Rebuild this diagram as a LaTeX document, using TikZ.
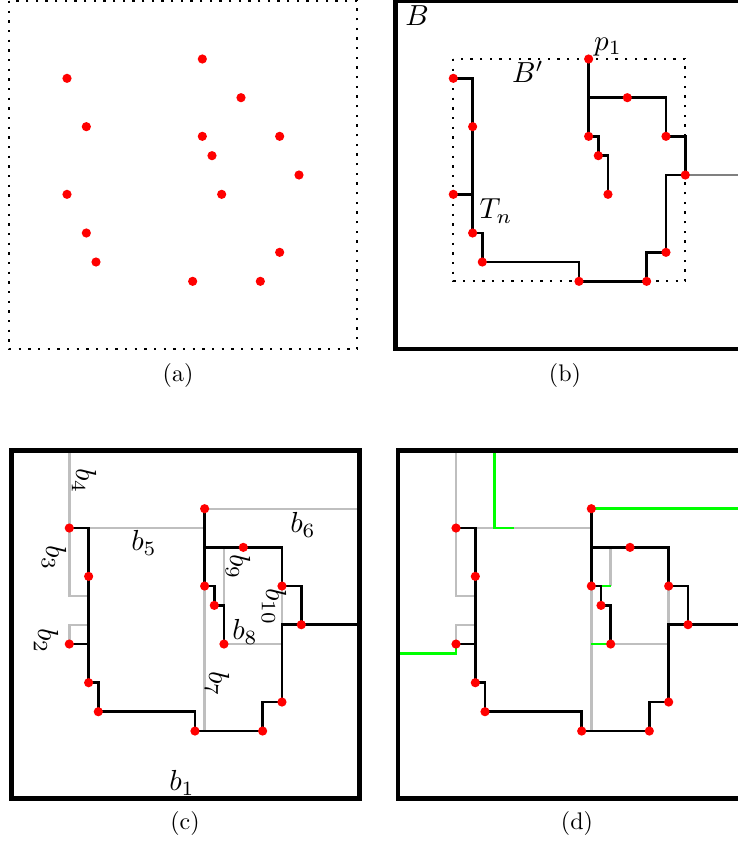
\documentclass[tikz,border=0pt]{standalone}
\definecolor{bgray}{gray}{0.75}
\definecolor{dgray}{gray}{0.5}
\definecolor{bgreen}{rgb}{0,1,0}

% the fifteen sample points of one panel, in grid units, plus the frame corners
\newcommand{\setpoints}[1]{%
  \foreach \n/\ix/\iy in {1/0/2,2/14/0,3/18/4,4/2/7,5/14/8,6/22/8,7/15/10,8/24/12,
                          9/0/14,10/16/14,11/2/18,12/3/21,13/22/20,14/13/23,15/20/23}
    {\coordinate (#1\n) at (\ix,\iy);}
  \coordinate (#1tl) at (-6,-6);
  \coordinate (#1br) at (30,30);}

% rectilinear tree T_n through the points
\newcommand{\drawtree}[1]{%
  \draw[treeline] (#11) -| (#111) -| (#112) -| (#114) -- (#115) |- (#113)
                  |- (#18) |- (#16) |- (#13) -| (#15);
  \draw[treeline] (#19) -- (#19 -| #14);
  \draw[treeline] (#12) -- (#15) -| (#17) -| (#110);}

\newcommand{\redpoints}[1]{%
  \foreach \k in {1,...,15}{\fill[red] (#1\k) circle[radius=2.3pt];}}

\begin{document}
\begin{tikzpicture}[x=0.5pt,y=-0.5pt,
  treeline/.style={draw=black, line width=1.45pt},
  bline/.style={draw=bgray, line width=1.2pt},
  gline/.style={draw=bgreen, line width=1.45pt},
  extline/.style={draw=dgray, line width=1.2pt},
  frame/.style={draw=black, line width=2.4pt},
  dotframe/.style={draw=black, line width=1.1pt, dash pattern=on 1.1pt off 3.7333pt},
  lbl/.style={font=\normalsize, scale=1.45, inner sep=0pt},
  caption/.style={font=\normalsize, scale=1.2, inner sep=0pt},
  grid units/.style={x=4.8333pt, y=-4.8333pt}]

\useasboundingbox (0,0) rectangle (738,841);
\clip (0,0) rectangle (738,841);

% (a) the point set
\begin{scope}[shift={(67,59)}, grid units]
  \setpoints{a}
  \draw[dotframe] (atl) rectangle (abr);
  \redpoints{a}
\end{scope}

% (b) the tree inside B' and B
\begin{scope}[shift={(453.3,59)}, grid units]
  \setpoints{b}
  \draw[frame] (btl) rectangle (bbr);
  \draw[dotframe] (b2 -| b1) rectangle (b14 -| b8);
  \draw[extline] (b8) -- (b8 -| bbr);
  \drawtree{b}
  \redpoints{b}
\end{scope}

% (c) the boundaries b_1 ... b_10
\begin{scope}[shift={(69.3,508.7)}, grid units]
  \setpoints{c}
  \draw[bline] (c1) -- (c1 |- ctl);
  \draw[bline] (c1) -- (0,9) -- (2,9);
  \draw[bline] (c9) -- (0,12) -- (2,12);
  \draw[bline] (c1 -| c4) -- (c1 -| c2);
  \draw[bline] (c2) -- (c2 -| cbr);
  \draw[bline] (c5) -- (c5 |- c14);
  \draw[bline] (c10) -- (c10 -| c6);
  \draw[bline] (c3 -| c10) -- (c7 -| c10);
  \draw[bline] (c6) -- (c6 |- c8);
  \draw[frame] (ctl) rectangle (cbr);
  \draw[treeline] (c8) -- (c8 -| cbr);
  \drawtree{c}
  \redpoints{c}
\end{scope}

% (d) the added green segments
\begin{scope}[shift={(456,508.7)}, grid units]
  \setpoints{d}
  \draw[bline] (d1) -- (d1 |- dtl);
  \draw[bline] (d1) -- (0,9) -- (2,9);
  \draw[bline] (d9) -- (0,12) -- (2,12);
  \draw[bline] (d1 -| d4) -- (d1 -| d2);
  \draw[bline] (d5) -- (d5 |- d14);
  \draw[bline] (d10) -- (d10 -| d6);
  \draw[bline] (d3 -| d10) -- (d5 -| d10);
  \draw[bline] (d6) -- (d6 |- d8);
  \draw[gline] (4,-6) -- (4,2) -- (6,2);
  \draw[gline] (d2) -- (d2 -| dbr);
  \draw[gline] (d7 |- d5) -- (d5 -| d10);
  \draw[gline] (d10 -| d5) -- (d10);
  \draw[gline] (-6,15) -- (0,15) -- (d9);
  \draw[frame] (dtl) rectangle (dbr);
  \draw[treeline] (d8) -- (d8 -| dbr);
  \drawtree{d}
  \redpoints{d}
\end{scope}

% labels
\node[lbl] (lB)  at (417,16)  {$B$};
\node[lbl] (lBp) at (528,72)  {$B'$};
\node[lbl] (lp1) at (608,47)  {$p_1$};
\node[lbl] (lTn) at (496,211) {$T_n$};

\node[lbl] (lb1)  at (182,783) {$b_1$};
\node[lbl, rotate=-90] (lb2)  at (46,641)  {$b_2$};
\node[lbl, rotate=-90] (lb3)  at (54,558)  {$b_3$};
\node[lbl, rotate=-90] (lb4)  at (84,481)  {$b_4$};
\node[lbl] (lb5)  at (144,543) {$b_5$};
\node[lbl] (lb6)  at (303,525) {$b_6$};
\node[lbl, rotate=-90] (lb7)  at (217,684) {$b_7$};
\node[lbl] (lb8)  at (245,632) {$b_8$};
\node[lbl, rotate=-90] (lb9)  at (238,567) {$b_9$};
\node[lbl, rotate=-90] (lb10) at (274,607) {$b_{10}$};

\node[caption] (ca) at (178,375) {(a)};
\node[caption] (cb) at (565,375) {(b)};
\node[caption] (cc) at (185,823) {(c)};
\node[caption] (cd) at (577,823) {(d)};
\end{tikzpicture}
\end{document}
